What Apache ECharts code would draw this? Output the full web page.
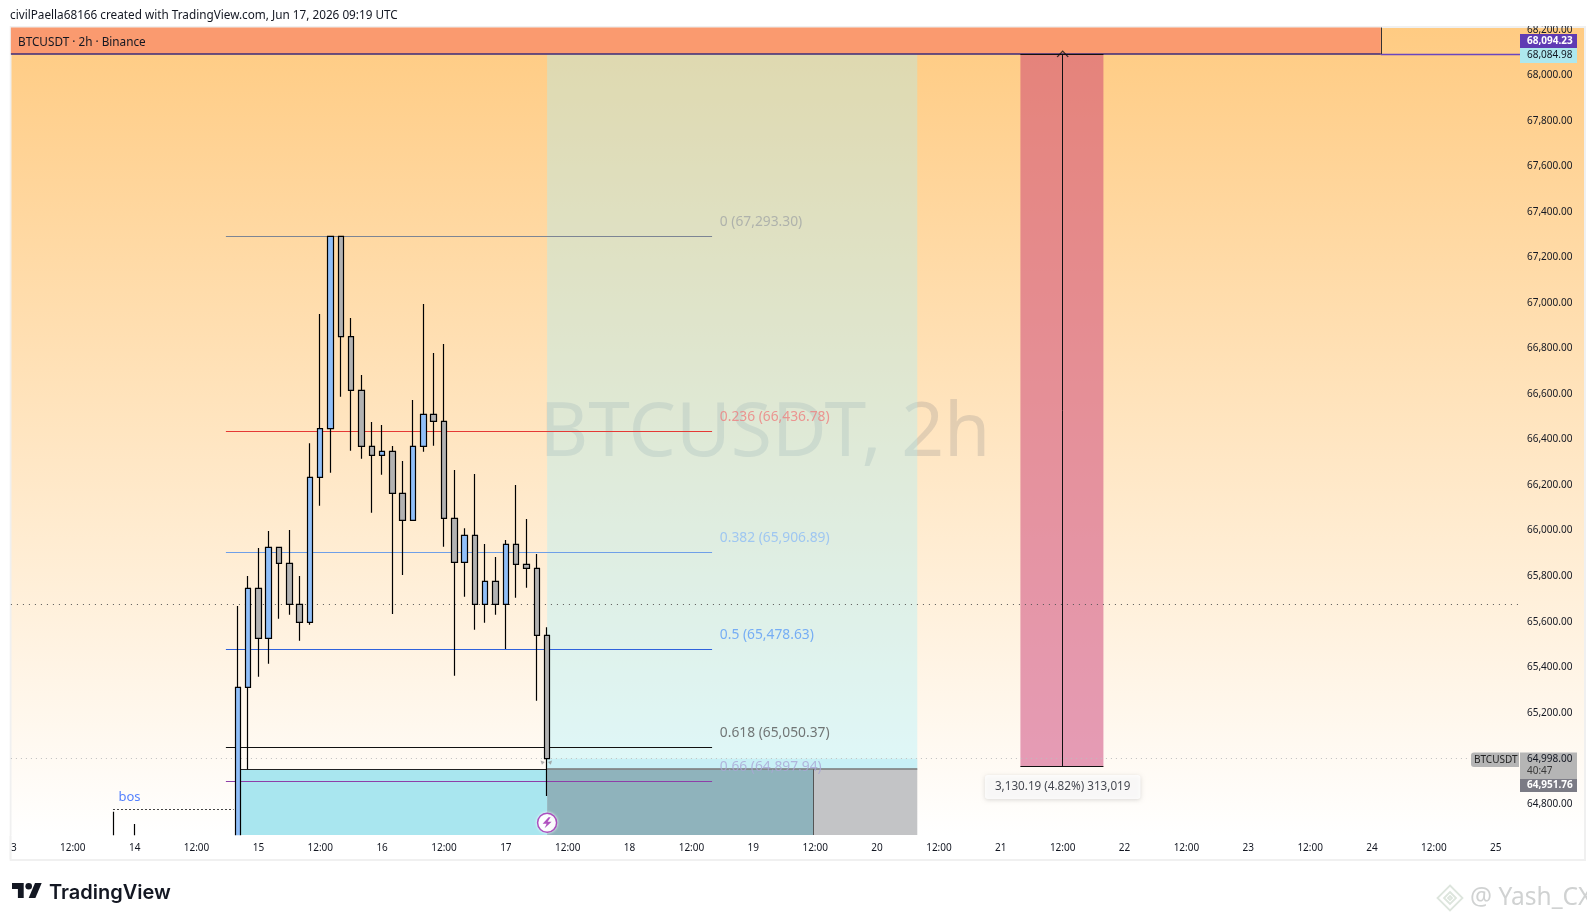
<!DOCTYPE html>
<html><head><meta charset="utf-8">
<style>html,body{margin:0;padding:0;background:#fff}#c{width:1595px;height:921px}</style>
<script src="https://cdn.jsdelivr.net/npm/echarts@6/dist/echarts.min.js"></script>
</head><body><div id="c"></div>
<script>
// ---- values ----
// x values are hours counted from 14 June 2026 00:00 UTC
const hoursFromJun14 = [-4,0,20,22,24,26,28,30,32,34,36,38,40,42,44,46,48,50,52,54,56,58,60,62,64,66,68,70,72,74,76,78,80];
const opens  = [64500,64500,64450,65311.7,65746.7,65527,65926.9,65856.6,65676.4,65597.3,66234.4,66448,67293.3,66852.2,66616.7,66370.6,66331.1,66348.7,66164.1,66045.5,66370.6,66511.2,66480.5,66054.3,65861,65979.6,65676.4,65777.5,65676.4,65940,65852.2,65834.6,65540.2];
const closes = [64600,64550,65311.7,65746.7,65527,65926.9,65856.6,65676.4,65597.3,66234.4,66448,67293.3,66852.2,66616.7,66370.6,66331.1,66348.7,66164.1,66045.5,66370.6,66511.2,66480.5,66054.3,65861,65979.6,65676.4,65777.5,65676.4,65940,65852.2,65834.6,65540.2,64998];
const lows   = [64400,64450,64350,64951.5,65358.3,65415.4,65613.2,65630.7,65516.5,65586.8,66109.6,66254.6,66588.6,66351.3,66316.1,66078.9,66245.8,65633.8,65805.2,66045.5,66346.9,66373.3,65929.5,65362.7,65709.8,65564.8,65595.6,65630.7,65480,65705.4,65749.3,65252.9,64834.2];
const highs  = [64765.2,64711.1,65668.9,65800.8,65923.8,65998.5,65926.9,66002.9,65800.8,66383.8,66951.9,67293.3,67293.3,66934.3,66683.9,66477.4,66464.2,66371.9,66306,66574.1,66995.8,66780.6,66820.1,66266.5,66010.3,66248.9,65941.4,65884.3,65958.9,66200.6,66051.2,65897.4,65575.4];

const fibRatios = ['0','0.236','0.382','0.5','0.618','0.66'];
const fibPrices = [67293.30,66436.78,65906.89,65478.63,65050.37,64897.94];
const fibLineColors = ['#7d8594','#e53935','#6f9fe8','#2f62dc','#111111','#8e3fa8'];
const fibTextColors = ['#a3a6a6','#ee8080','#8fbdf5','#5b9cf6','#555555','#aaa6d6'];
const fibStartEnd = [17.7, 112];
const fibLabelHour = 113.5;

const priceTicks = [64800,65000,65200,65400,65600,65800,66000,66200,66400,66600,66800,67000,67200,67400,67600,67800,68000,68200];
const dayLabelHours = [-24,-12,0,12,24,36,48,60,72,84,96,108,120,132,144,156,168,180,192,204,216,228,240,252,264];

const priceMin = 64662.8, priceMax = 68210.7;
const hourMin = -24, hourMax = 268.7;
const lastClose = 64998, dottedLevel = 65676.4, targetPrice = 68094.23, stopPrice = 64964.04, zonePrice = 64951.76;
const bosPrice = 64775.7, bosHours = [-4.2, 19.2], bosLabelHour = -1;
const zoneHours = [20.54, 80, 131.7, 151.8];
const redHours = [171.8, 180, 187.9];
const headerEndHour = 241.7;
const measureLabelPrice = 64873.7;
const flashPrice = 64716.8;
const handleHours = [79, 80.7], handlePrice = 64983.5;
const measureText = '3,130.19 (4.82%) 313,019';

// ---- helpers ----
const T0 = Date.UTC(2026,5,14);
const UI = '"Noto Sans", sans-serif';
const fmt = v => v.toLocaleString('en-US',{minimumFractionDigits:2,maximumFractionDigits:2});
const seg = (h1,p1,h2,p2,color,width,type) => [{coord:[h1,p1],lineStyle:{color:color,width:width,type:type||'solid'}},{coord:[h2,p2]}];
const box = (h1,p1,h2,p2,color) => [{coord:[h1,p1],itemStyle:{color:color}},{coord:[h2,p2]}];
const scat = (h,p,extra) => Object.assign({value:[h,p]},extra);
const txt = (text,x,y,size,fill,o) => ({type:'text',z:100,style:{text:text,x:x,y:y,fill:fill,font:(o&&o.weight||'normal')+' '+size+'px '+(o&&o.family||UI),verticalAlign:'middle',align:(o&&o.align)||'left'}});
const rect = (x,y,w,h,fill,z,r) => ({type:'rect',z:z===undefined?100:z,shape:{x:x,y:y,width:w,height:h,r:r||0},style:{fill:fill}});
const poly = (pts,fill) => ({type:'polygon',z:100,shape:{points:pts},style:{fill:fill}});
const diamond = (cx,cy,r) => ({type:'polygon',z:100,shape:{points:[[cx,cy-r],[cx+r,cy],[cx,cy+r],[cx-r,cy]]},style:{fill:'none',stroke:'#dde5dd',lineWidth:1.8}});

const chart = echarts.init(document.getElementById('c'),null,{renderer:'canvas'});
chart.setOption({
  animation:false,
  backgroundColor:'#ffffff',
  grid:{left:10.9,right:75,top:27.5,bottom:86,containLabel:false},
  xAxis:{type:'value',min:hourMin,max:hourMax,z:110,
    axisLine:{show:false},axisTick:{show:false},splitLine:{show:false},
    axisLabel:{customValues:dayLabelHours,hideOverlap:false,showMinLabel:true,showMaxLabel:true,margin:8,color:'#131722',fontFamily:UI,fontSize:10,
      formatter:v=>{const d=new Date(T0+v*3600000);return d.getUTCHours()===12?'12:00':String(d.getUTCDate());}}},
  yAxis:{type:'value',position:'right',min:priceMin,max:priceMax,
    axisLine:{show:false},axisTick:{show:false},splitLine:{show:false},
    axisLabel:{customValues:priceTicks,margin:7,color:'#131722',fontFamily:UI,fontSize:10,padding:[0,0,4,0],formatter:v=>fmt(v)}},
  graphic:{elements:[
    {type:'rect',z:-3,shape:{x:10.5,y:27,width:1574.5,height:833},
      style:{stroke:'#f0f0f0',lineWidth:2,fill:new echarts.graphic.LinearGradient(0,0,0,1,[{offset:0,color:'#ffcb82'},{offset:0.97,color:'#ffffff'},{offset:1,color:'#ffffff'}])}},
    {type:'text',z:-2,style:{text:'BTCUSDT, 2h',x:765,y:435,align:'center',verticalAlign:'middle',fill:'rgba(110,115,125,0.2)',font:'normal 75px '+UI}},
    rect(11.5,835.3,1572.5,30,'#ffffff',99),
    rect(0,860,1595,61,'#ffffff',99),
    rect(9.5,859,1576.5,2,'#f0f0f0',99.5),
    rect(0,0,1595,26,'#ffffff'),
    rect(0,0,9.5,861,'#ffffff',120),
    rect(9.5,836,2,23,'#f0f0f0',121),
    txt('civilPaella68166 created with TradingView.com, Jun 17, 2026 09:19 UTC',10,16,11.75,'#131722'),
    txt('BTCUSDT · 2h · Binance',18,43,11.75,'#131722'),
    rect(1520,34,57,14,'#5f3bb3'), txt('68,094.23',1527,41,10,'#ffffff',{weight:'bold'}),
    rect(1520,48,57,15,'#aee8ee'), txt('68,084.98',1527,55.5,10,'#131722'),
    rect(1471,752.5,48,14.5,'#b5b5b5',100,[3,0,0,3]), txt('BTCUSDT',1474,759.7,10,'#222222'),
    rect(1520,752.5,57,26.5,'#b5b5b5'), txt('64,998.00',1527,759.5,10,'#131722'), txt('40:47',1527,771.5,10,'#3a3a3a'),
    rect(1520,779,57,13,'#7b7b85'), txt('64,951.76',1527,785.5,10,'#ffffff',{weight:'bold'}),
    poly([[12,883],[23.7,883],[23.7,898],[17.9,898],[17.9,888.9],[12,888.9]],'#131722'),
    poly([[35.4,898],[28.7,898],[35,883],[41.7,883]],'#131722'),
    {type:'circle',z:100,shape:{cx:28.7,cy:886.3,r:3.3},style:{fill:'#131722'}},
    txt('TradingView',49,893,20,'#131722',{weight:'600',family:'Inter, sans-serif'}),
    diamond(1450,898,12.5), diamond(1450,898,6), diamond(1450,898,2),
    txt('@ Yash_CX',1470,898,24.5,'#d0d2d2'),
    rect(1587,861.2,8,60,'#ffffff',101)
  ]},
  series:[
    {type:'line',name:'zones',z:1,data:[],silent:true,
      markArea:{silent:true,data:[
        box(zoneHours[1],targetPrice,zoneHours[3],zonePrice,'rgba(164,241,255,0.35)'),
        box(zoneHours[1],lastClose,zoneHours[3],zonePrice,'rgba(120,220,240,0.22)'),
        box(zoneHours[0],zonePrice,zoneHours[1],priceMin,'#a9e6ef'),
        box(zoneHours[1],zonePrice,zoneHours[2],priceMin,'#8fb3bc'),
        box(zoneHours[2],zonePrice,zoneHours[3],priceMin,'#c3c4c6'),
        box(redHours[0],targetPrice,redHours[2],stopPrice,'rgba(200,49,110,0.47)'),
        box(hourMin,priceMax,headerEndHour,targetPrice,'#fa9a6f')
      ]}},
    {type:'line',name:'levels',z:3,data:[],silent:true,
      markLine:{silent:true,symbol:'none',animation:false,label:{show:false},data:
        fibPrices.map((p,i)=>seg(fibStartEnd[0],p,fibStartEnd[1],p,fibLineColors[i],1)).concat([
        seg(hourMin,dottedLevel,hourMax,dottedLevel,'#555555',1,[1,5]),
        seg(hourMin,lastClose,hourMax,lastClose,'#bdbdbd',1,[1,4]),
        seg(bosHours[0],bosPrice,bosHours[1],bosPrice,'#444444',1,[2,2]),
        seg(zoneHours[0],zonePrice,zoneHours[1],zonePrice,'#222222',1),
        seg(zoneHours[1],zonePrice,zoneHours[3],zonePrice,'#777777',1.5),
        seg(zoneHours[2],zonePrice,zoneHours[2],priceMin,'#555555',1),
        seg(hourMin,targetPrice,headerEndHour,targetPrice,'#3b2a78',1.5),
        seg(headerEndHour,targetPrice,hourMax,targetPrice,'#6a45c0',1.3),
        seg(headerEndHour,priceMax,headerEndHour,targetPrice,'#333333',1),
        seg(redHours[0],targetPrice,redHours[2],targetPrice,'#111111',1),
        seg(redHours[0],stopPrice,redHours[2],stopPrice,'#111111',1.2),
        seg(redHours[1],targetPrice,redHours[1],stopPrice,'#111111',1)
      ])}},
    {type:'candlestick',name:'BTCUSDT',z:5,barWidth:6,
      itemStyle:{color:'#90bff9',color0:'#b2b2b2',borderColor:'#000000',borderColor0:'#000000',borderWidth:1.2},
      data:hoursFromJun14.map((h,i)=>[h,opens[i],closes[i],lows[i],highs[i]])},
    {type:'scatter',name:'labels',z:6,symbolSize:0,silent:true,
      data:fibRatios.map((r,i)=>scat(fibLabelHour,fibPrices[i],{
        label:{show:true,position:'right',distance:0,offset:[0,-14.2],color:fibTextColors[i],fontFamily:UI,fontSize:13.8,
          formatter:r+' ('+fmt(fibPrices[i])+')'}})).concat([
        scat(bosLabelHour,bosPrice,{label:{show:true,position:'inside',offset:[0,-12],color:'#2962ff',fontFamily:UI,fontSize:13,formatter:'bos'}}),
        scat(redHours[1],measureLabelPrice,{label:{show:true,position:'inside',backgroundColor:'#ffffff',borderRadius:3,padding:[6,10],shadowColor:'rgba(0,0,0,0.18)',shadowBlur:4,shadowOffsetY:1,color:'#131722',fontFamily:UI,fontSize:11.7,formatter:measureText}})
      ])},
    {type:'scatter',name:'arrow',z:6,silent:true,symbol:'path://M0,8 L6,0 L12,8',symbolSize:[11,6],
      itemStyle:{color:'rgba(0,0,0,0)',borderColor:'#111111',borderWidth:1},
      data:[scat(redHours[1],targetPrice)]},
    {type:'scatter',name:'handles',z:6,silent:true,symbol:'triangle',symbolSize:4,
      itemStyle:{color:'#999999'},
      data:[scat(handleHours[0],handlePrice,{symbolRotate:45}),scat(handleHours[1],handlePrice,{symbolRotate:-45})]},
    {type:'scatter',name:'flashRing',z:7,silent:true,symbol:'circle',symbolSize:19,
      itemStyle:{color:'#ffffff',borderColor:'#9c27b0',borderWidth:1.5,shadowColor:'#ffffff',shadowBlur:3},
      data:[scat(80,flashPrice)]},
    {type:'scatter',name:'flash',z:8,silent:true,symbol:'path://M7,0 L1,7 L5,7 L3,12 L10,5 L6,5 L9,0 Z',symbolSize:[9,11],
      itemStyle:{color:'#9c27b0'},
      data:[scat(80,flashPrice)]}
  ]
});
</script></body></html>
